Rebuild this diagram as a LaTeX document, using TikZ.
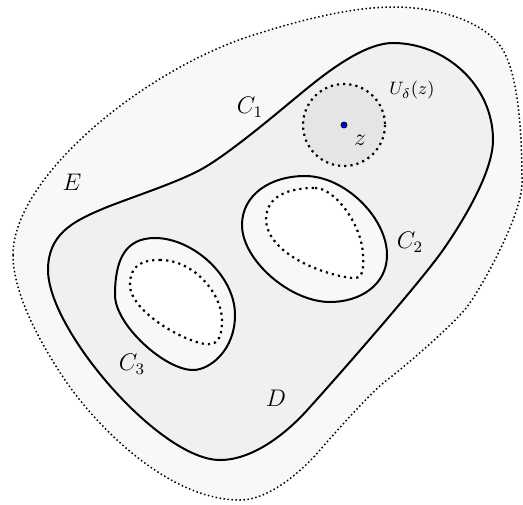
\documentclass[tikz,border=0pt]{standalone}
\definecolor{Ecol}{gray}{0.972}
\definecolor{Dcol}{gray}{0.94}
\definecolor{Ucol}{gray}{0.9}
\tikzset{
  solidcurve/.style={line width=1pt},
  outerdots/.style={line width=0.75pt, dash pattern=on 0.75pt off 1.25pt},
  innerdots/.style={line width=1.1pt, dash pattern=on 1.1pt off 2pt},
  lbl/.style={font=\fontsize{11.5}{13}\selectfont, inner sep=0pt},
  smalllbl/.style={font=\fontsize{9.5}{11}\selectfont, inner sep=0pt},
}
\begin{document}
\begin{tikzpicture}[x=0.5pt,y=-0.5pt]
\useasboundingbox (0,0) rectangle (523,504);
% outer region E
\draw[outerdots, fill=Ecol] (13,255)
  .. controls (13,175) and (150,65) .. (260,33)
  .. controls (298,21) and (350,7) .. (393,7)
  .. controls (445,7) and (488,25) .. (503,50)
  .. controls (518,76) and (522,130) .. (522,183)
  .. controls (522,215) and (482,287) .. (467,307)
  .. controls (451,327) and (403,368) .. (387,380)
  .. controls (371,392) and (333,435) .. (320,450)
  .. controls (304,469) and (270,500) .. (240,500)
  .. controls (170,500) and (100,430) .. (67,383)
  .. controls (50,358) and (13,300) .. (13,255) -- cycle;
% C1 region D
\draw[solidcurve, fill=Dcol] (393,43)
  .. controls (445,43) and (493,85) .. (493,140)
  .. controls (493,175) and (457,230) .. (443,250)
  .. controls (420,283) and (330,385) .. (310,407)
  .. controls (290,430) and (255,460) .. (220,460)
  .. controls (160,460) and (48,330) .. (48,270)
  .. controls (48,235) and (72,222) .. (100,210)
  .. controls (123,200) and (174,184) .. (200,170)
  .. controls (226,156) and (270,119) .. (293,100)
  .. controls (316,81) and (360,43) .. (393,43) -- cycle;
% C2
\draw[solidcurve, fill=Ecol] (305,176)
  .. controls (345,176) and (387,218) .. (387,255)
  .. controls (387,285) and (360,302) .. (330,302)
  .. controls (290,302) and (242,260) .. (242,225)
  .. controls (242,195) and (270,176) .. (305,176) -- cycle;
\draw[innerdots, fill=white] (315,188)
  .. controls (335,188) and (362,225) .. (363,255)
  .. controls (364,272) and (362,279) .. (352,278)
  .. controls (325,275) and (268,255) .. (266,220)
  .. controls (266,195) and (290,188) .. (315,188) -- cycle;
% C3
\draw[solidcurve, fill=Ecol] (155,238)
  .. controls (192,238) and (235,275) .. (235,315)
  .. controls (235,350) and (210,370) .. (193,370)
  .. controls (165,370) and (115,325) .. (115,295)
  .. controls (115,260) and (125,238) .. (155,238) -- cycle;
\draw[innerdots, fill=white] (160,260)
  .. controls (195,260) and (222,295) .. (222,320)
  .. controls (222,342) and (215,345) .. (205,344)
  .. controls (180,340) and (130,310) .. (130,285)
  .. controls (130,265) and (142,260) .. (160,260) -- cycle;
% neighbourhood
\draw[innerdots, fill=Ucol] (344,125) circle[radius=41];
\fill[blue] (344,125) circle[radius=3];
\draw[line width=0.4pt] (344,125) circle[radius=3];
% labels
\node[lbl] (z) at (360,140) {$z$};
\node[smalllbl] (U) at (412,90) {$U_\delta(z)$};
\node[lbl] (C1) at (250,107) {$C_1$};
\node[lbl] (E) at (72,182) {$E$};
\node[lbl] (C2) at (410,242) {$C_2$};
\node[lbl] (C3) at (132,364) {$C_3$};
\node[lbl] (D) at (276,398) {$D$};
\end{tikzpicture}
\end{document}
